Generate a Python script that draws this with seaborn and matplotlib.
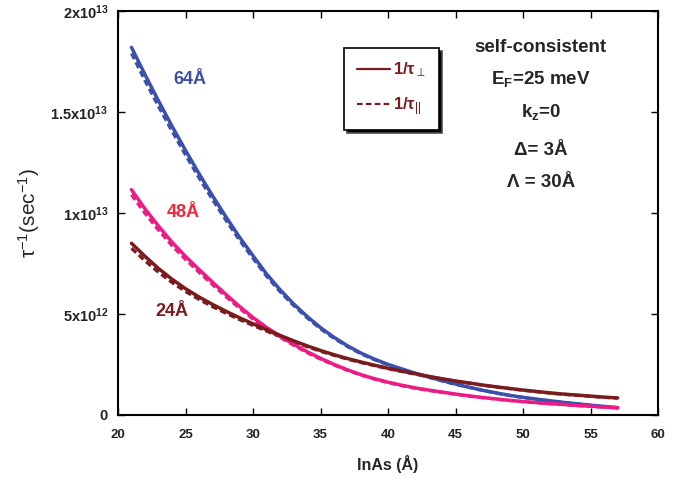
import numpy as np
import pandas as pd
import matplotlib
matplotlib.use("Agg")
import matplotlib.pyplot as plt
import seaborn as sns
from matplotlib.lines import Line2D

# ---------------- data (values in units of 1e12 s^-1) ----------------
x_inas = [21, 22, 23, 24, 25, 26, 27, 28, 29, 30, 31, 32, 33, 34, 35, 36, 37, 38, 39,
          40, 41, 42, 43, 44, 45, 46, 47, 48, 49, 50, 51, 52, 53, 54, 55, 56, 57]

blue64_perp = [18.2, 16.85, 15.55, 14.3, 13.1, 11.95, 10.85, 9.8, 8.8, 7.88, 6.98, 6.2, 5.5,
               4.88, 4.32, 3.84, 3.42, 3.06, 2.76, 2.5, 2.28, 2.07, 1.88, 1.7, 1.53, 1.37, 1.22,
               1.09, 0.97, 0.87, 0.78, 0.7, 0.62, 0.55, 0.48, 0.42, 0.36]
blue64_par = [17.9, 16.55, 15.27, 14.05, 12.87, 11.74, 10.66, 9.63, 8.65, 7.75, 6.87, 6.1, 5.42,
              4.81, 4.26, 3.79, 3.38, 3.02, 2.73, 2.47, 2.25, 2.05, 1.86, 1.68, 1.51, 1.36, 1.21,
              1.08, 0.96, 0.86, 0.77, 0.69, 0.61, 0.54, 0.47, 0.41, 0.35]
pink48_perp = [11.15, 10.2, 9.35, 8.55, 7.85, 7.2, 6.57, 5.96, 5.37, 4.82, 4.33, 3.9, 3.5,
               3.13, 2.8, 2.5, 2.23, 1.99, 1.79, 1.62, 1.47, 1.34, 1.23, 1.13, 1.03, 0.94, 0.86,
               0.79, 0.72, 0.66, 0.61, 0.56, 0.52, 0.47, 0.43, 0.39, 0.35]
pink48_par = [10.9, 9.98, 9.15, 8.38, 7.7, 7.06, 6.45, 5.85, 5.28, 4.74, 4.26, 3.84, 3.45,
              3.08, 2.76, 2.47, 2.2, 1.97, 1.77, 1.6, 1.45, 1.32, 1.21, 1.11, 1.02, 0.93, 0.85,
              0.78, 0.71, 0.65, 0.6, 0.55, 0.51, 0.46, 0.42, 0.38, 0.34]
brown24_perp = [8.5, 7.85, 7.25, 6.72, 6.25, 5.84, 5.47, 5.13, 4.81, 4.51, 4.22, 3.94, 3.67,
                3.42, 3.19, 2.98, 2.79, 2.62, 2.46, 2.31, 2.17, 2.04, 1.91, 1.79, 1.68, 1.58, 1.48,
                1.39, 1.31, 1.23, 1.16, 1.09, 1.03, 0.98, 0.93, 0.88, 0.84]
brown24_par = [8.25, 7.63, 7.06, 6.56, 6.11, 5.72, 5.36, 5.03, 4.72, 4.43, 4.15, 3.88, 3.62,
               3.38, 3.15, 2.95, 2.76, 2.59, 2.44, 2.29, 2.15, 2.02, 1.9, 1.78, 1.67, 1.57, 1.47,
               1.38, 1.3, 1.22, 1.15, 1.08, 1.02, 0.97, 0.92, 0.87, 0.83]

y_ticks = [0, 5, 10, 15, 20]
y_ticklabels = [r"$\mathbf{0}$", r"$\mathbf{5x10^{12}}$", r"$\mathbf{1x10^{13}}$",
                r"$\mathbf{1.5x10^{13}}$", r"$\mathbf{2x10^{13}}$"]
x_ticks = [20, 25, 30, 35, 40, 45, 50, 55, 60]

rows = []
for kind, sets in [("par", [("64", blue64_par), ("48", pink48_par), ("24", brown24_par)]),
                   ("perp", [("64", blue64_perp), ("48", pink48_perp), ("24", brown24_perp)])]:
    for size, vals in sets:
        for xv, yv in zip(x_inas, vals):
            rows.append({"x": xv, "y": yv, "size": size, "kind": kind, "grp": size + kind})
df = pd.DataFrame(rows)

# ---------------- style ----------------
sns.set_theme(style="white")
plt.rcParams["font.family"] = ["Liberation Sans", "DejaVu Sans"]
plt.rcParams["mathtext.fontset"] = "custom"
plt.rcParams["mathtext.rm"] = "Liberation Sans"
plt.rcParams["mathtext.it"] = "Liberation Sans:italic"
plt.rcParams["mathtext.bf"] = "Liberation Sans:bold"

c_blue = "#3C4FAA"
c_pink = "#EC1C85"
c_brown = "#7A1C1E"
c_red = "#F0283C"

fig = plt.figure(figsize=(6.82, 4.78), dpi=100)
ax = fig.add_axes([0.173, 0.132, 0.792, 0.845])

pal = {"64": c_blue, "48": c_pink, "24": c_brown}
sns.lineplot(data=df[df["kind"] == "par"], x="x", y="y", hue="size", palette=pal,
             units="grp", estimator=None, linewidth=2.3, dashes=False,
             legend=False, ax=ax, sort=False)
for ln in ax.get_lines():
    ln.set_dashes((2.0, 1.1))
sns.lineplot(data=df[df["kind"] == "perp"], x="x", y="y", hue="size", palette=pal,
             units="grp", estimator=None, linewidth=2.5, legend=False, ax=ax, sort=False)

ax.set_xlim(20, 60)
ax.set_ylim(0, 20)
ax.set_xticks(x_ticks)
ax.set_xticklabels([str(t) for t in x_ticks], fontsize=9.5, fontweight="bold")
ax.set_yticks(y_ticks)
ax.set_yticklabels(y_ticklabels, fontsize=10.5)
ax.tick_params(direction="in", length=5, width=1, top=True, right=True,
               bottom=True, left=True, colors="black")
ax.tick_params(axis="x", pad=10, labelcolor="#222222")
ax.tick_params(axis="y", pad=7, labelcolor="#222222")
for sp in ax.spines.values():
    sp.set_color("black")
    sp.set_linewidth(1.5)

ax.set_xlabel("InAs (Å)", fontsize=11.5, fontweight="bold", labelpad=10)
ax.set_ylabel(r"τ$^{-1}$(sec$^{-1}$)", fontsize=15, labelpad=6)

# curve labels
ax.text(25.3, 16.6, "64Å", color=c_blue, fontsize=13, fontweight="bold", ha="center", va="center")
ax.text(24.8, 10.0, "48Å", color=c_red, fontsize=13, fontweight="bold", ha="center", va="center")
ax.text(24.0, 5.1, "24Å", color=c_brown, fontsize=13, fontweight="bold", ha="center", va="center")

# annotation block
tx = 51.3
fs = 13.5
ax.text(tx, 18.2, "self-consistent", fontsize=fs, fontweight="bold", ha="center", va="center")
ax.text(tx, 16.65, r"E$_{\mathbf{F}}$=25 meV", fontsize=fs, fontweight="bold", ha="center", va="center")
ax.text(tx, 15.0, r"k$_{\mathbf{z}}$=0", fontsize=fs, fontweight="bold", ha="center", va="center")
ax.text(tx, 13.1, "Δ= 3Å", fontsize=fs, fontweight="bold", ha="center", va="center")
ax.text(tx, 11.5, "Λ = 30Å", fontsize=fs, fontweight="bold", ha="center", va="center")

# legend
handles = [Line2D([0], [0], color=c_brown, lw=1.6),
           Line2D([0], [0], color=c_brown, lw=1.6, dashes=(2.5, 1.5))]
labels = [r"1/τ$_{\perp}$", r"1/τ$_{||}$"]
leg = ax.legend(handles, labels, loc="upper left", bbox_to_anchor=(0.419, 0.908),
                borderaxespad=0, frameon=True, fancybox=False, edgecolor="black",
                handlelength=2.0, handletextpad=0.2, labelspacing=0.95,
                borderpad=0.75, prop={"weight": "bold", "size": 12},
                shadow={"facecolor": "black", "alpha": 1})
leg.get_frame().set_linewidth(1.2)
for t in leg.get_texts():
    t.set_color(c_brown)

fig.savefig("out.png", dpi=100)
